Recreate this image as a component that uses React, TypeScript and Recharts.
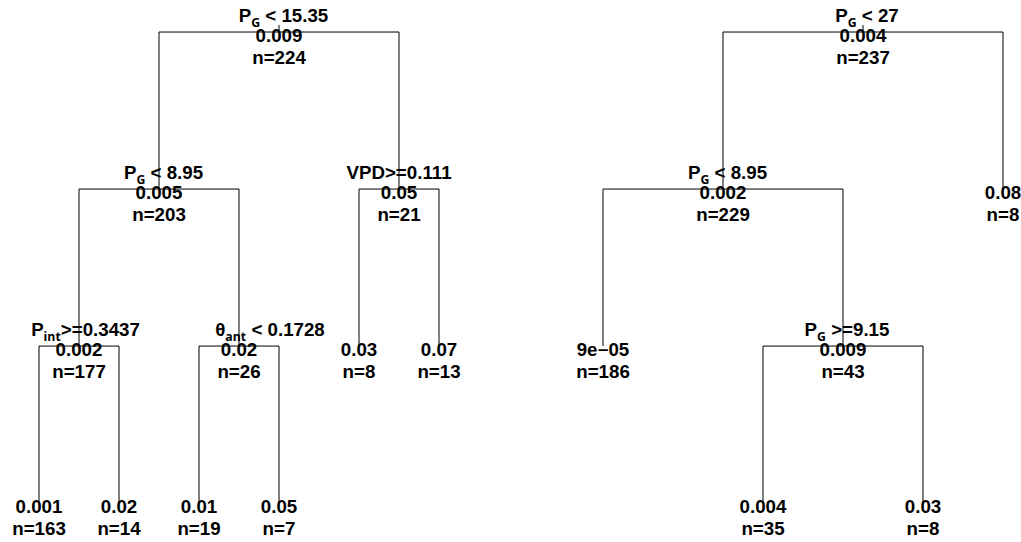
import { ScatterChart, Scatter, XAxis, YAxis } from 'recharts';

// two regression trees (rpart style), nodes listed in plot order
// split label: [variable, subscript, condition]
const nodeSplit: (string[] | null)[] = [
  ['P', 'G', ' < 15.35'],
  ['P', 'G', ' < 8.95'],
  ['VPD', '', '>=0.111'],
  ['P', 'int', '>=0.3437'],
  ['θ', 'ant', ' < 0.1728'],
  null,
  null,
  null,
  null,
  null,
  null,
  ['P', 'G', ' < 27'],
  ['P', 'G', ' < 8.95'],
  null,
  null,
  ['P', 'G', ' >=9.15'],
  null,
  null,
];
const nodeValue = [
  '0.009', '0.005', '0.05', '0.002', '0.02', '0.03', '0.07', '0.001', '0.02', '0.01', '0.05',
  '0.004', '0.002', '0.08', '9e\u221205', '0.009', '0.004', '0.03',
];
const nodeCount = [224, 203, 21, 177, 26, 8, 13, 163, 14, 19, 7, 237, 229, 8, 186, 43, 35, 8];
const nodeParent = [-1, 0, 0, 1, 1, 2, 2, 3, 3, 4, 4, -1, 11, 11, 12, 12, 15, 15];
const nodeDepth = [0, 1, 1, 2, 2, 2, 2, 3, 3, 3, 3, 0, 1, 1, 2, 2, 3, 3];
const nodePos = [4, 2.5, 5.5, 1.5, 3.5, 5, 6, 1, 2, 3, 4, 11.3, 9.55, 13.05, 8.05, 11.05, 10.05, 12.05];

const W = 1021;
const H = 542;
const X_DOMAIN: [number, number] = [0.5125, 13.275];
const Y_DOMAIN: [number, number] = [-0.204, 3.248];
const ROOT_STUB = 0.045;
const FONT = "'Liberation Sans', Arial, Helvetica, sans-serif";
const SUB_FONT = "'Open Sans', 'DejaVu Sans', sans-serif";
// R centres the plotmath labels a little to the right of the node
const LABEL_NUDGE: Record<number, number> = { 0: 4.5, 1: 4.5, 3: 6.5, 4: 31, 11: 4, 12: 4.5, 15: 4 };

const nodes = nodeValue.map((_v, i) => ({ x: nodePos[i], y: nodeDepth[i], i }));

const edges = nodeParent.map((p, i) =>
  p < 0
    ? [
        { x: nodePos[i], y: -ROOT_STUB },
        { x: nodePos[i], y: 0 },
      ]
    : [
        { x: nodePos[p], y: nodeDepth[p] },
        { x: nodePos[i], y: nodeDepth[p] },
        { x: nodePos[i], y: nodeDepth[i] },
      ]
);

const Empty = () => <g />;

const NodeLabel = (props: any) => {
  const { cx, cy, payload } = props;
  const i = payload.i;
  const split = nodeSplit[i];
  const nudge = LABEL_NUDGE[i] ?? 0;
  const sx = 'scale(1.07,1)';
  return (
    <g fill="#000" fontFamily={FONT} fontWeight="bold" fontSize={17.5} style={{ whiteSpace: 'pre' }}>
      {split && (
        <text transform={`translate(${cx + nudge},${cy - 10.2}) ${sx}`} textAnchor="middle">
          <tspan>{split[0]}</tspan>
          {split[1] ? (
            <tspan fontFamily={SUB_FONT} fontSize={11.5} dy={5}>
              {split[1]}
            </tspan>
          ) : null}
          <tspan dy={split[1] ? -5 : 0}>{split[2]}</tspan>
        </text>
      )}
      <text transform={`translate(${cx},${cy + 9.8}) ${sx}`} textAnchor="middle">
        {nodeValue[i]}
      </text>
      <text transform={`translate(${cx},${cy + 32.3}) ${sx}`} textAnchor="middle">
        {'n=' + nodeCount[i]}
      </text>
    </g>
  );
};

export default function App() {
  return (
    <div style={{ position: 'absolute', left: 0, top: 0, background: '#fff' }}>
      <ScatterChart width={W} height={H} margin={{ top: 0, right: 0, bottom: 0, left: 0 }}>
        <XAxis type="number" dataKey="x" domain={X_DOMAIN} hide allowDataOverflow />
        <YAxis type="number" dataKey="y" domain={Y_DOMAIN} reversed hide allowDataOverflow />
        {edges.map((e, k) => (
          <Scatter
            key={`edge-${k}`}
            data={e}
            line={{ stroke: '#000', strokeWidth: 1 }}
            shape={Empty}
            isAnimationActive={false}
          />
        ))}
        <Scatter data={nodes} shape={NodeLabel} isAnimationActive={false} />
      </ScatterChart>
    </div>
  );
}
